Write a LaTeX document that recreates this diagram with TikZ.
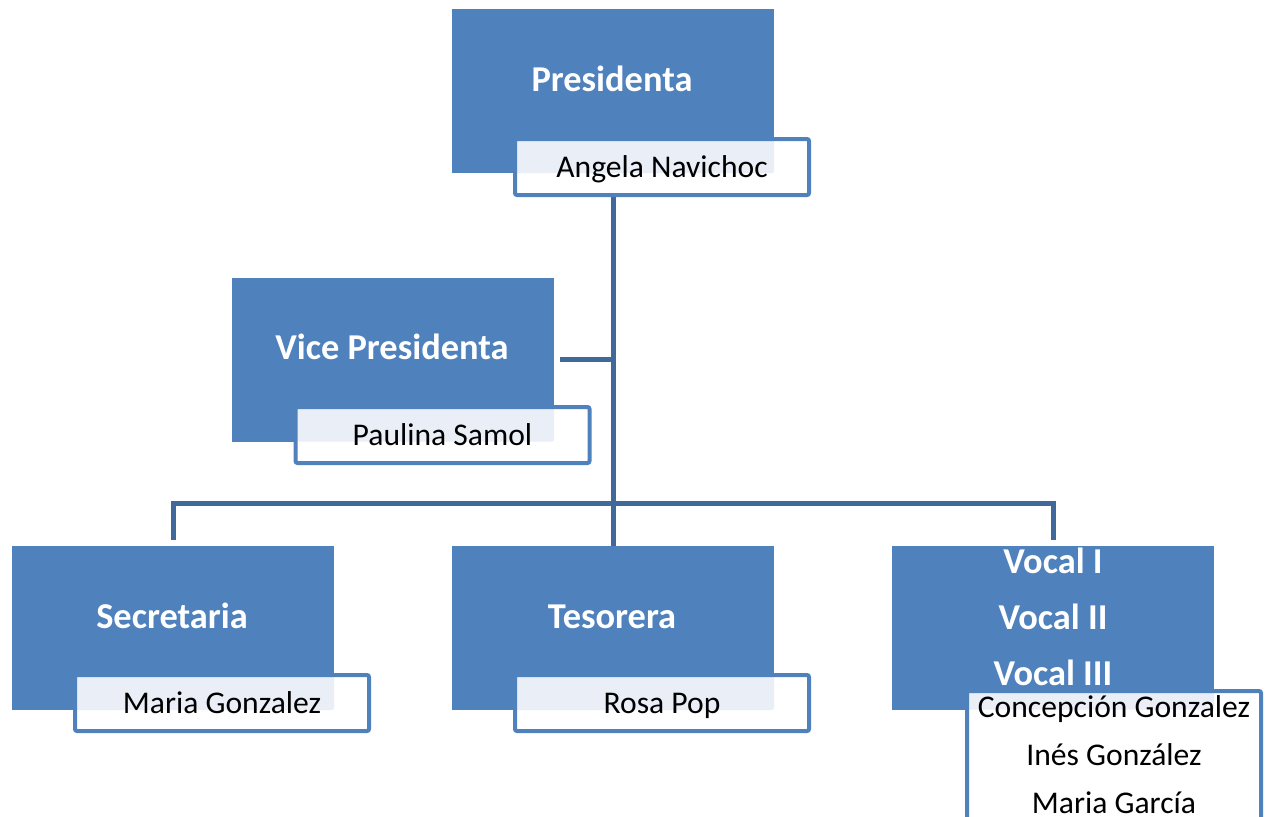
\documentclass[tikz,border=0pt]{standalone}
\usepackage{fontspec}
\setmainfont{Carlito}
\definecolor{boxblue}{HTML}{4F81BD}
\definecolor{linkblue}{HTML}{41689A}
\definecolor{nbord}{HTML}{4F81BD}
\definecolor{lightfill}{HTML}{E9EEF7}
\begin{document}
\begin{tikzpicture}[x=0.5pt,y=-0.5pt,
  rolebox/.style={fill=boxblue, draw=none, minimum width=161pt, minimum height=82pt, inner sep=0pt, outer sep=0pt},
  roletext/.style={text=white, font=\fontsize{18.2}{22}\selectfont\bfseries, inner sep=0pt, text height=12pt, text depth=0pt},
  namebox/.style={fill=white, draw=nbord, line width=2pt, rounded corners=1pt, minimum width=147pt, minimum height=28pt, inner sep=0pt, outer sep=0pt, font=\fontsize{15.8}{18}\selectfont, text height=10pt, text depth=0pt},
  nametext/.style={font=\fontsize{15.8}{18}\selectfont, inner sep=0pt, text height=10pt, text depth=0pt},
  link/.style={draw=linkblue, line width=2.5pt}]
\useasboundingbox (0,0) rectangle (1266,816);
\clip (0,0) rectangle (1266,816);
% role boxes
\node[rolebox] (pres) at (613,91) {};
\node[rolebox] (vp) at (393,359.5) {};
\node[rolebox] (sec) at (173,628) {};
\node[rolebox] (tes) at (613,628) {};
\node[rolebox] (voc) at (1053,627.5) {};
% connectors
\coordinate (bus) at (612,503);
\draw[link] (pres.south) -- (tes.north);
\draw[link] ([xshift=3pt]vp.east) -- (vp.east -| pres.south);
\draw[link] ([yshift=3pt]sec.north) |- (bus) -| ([yshift=3pt]voc.north);
% titles
\node[roletext] (presT) at (612,79) {Presidenta};
\node[roletext] (vpT) at (392,347) {Vice Presidenta};
\node[roletext] (secT) at (172,616) {Secretaria};
\node[roletext] (tesT) at (612,616) {Tesorera};
\node[roletext] (vocT1) at (1053,561) {Vocal I};
\node[roletext] (vocT2) at (1053,617) {Vocal II};
\node[roletext] (vocT3) at (1053,673) {Vocal III};
% name boxes
\node[namebox, path picture={\fill[lightfill] (path picture bounding box.north west) rectangle (pres.south east);}] (pname) at (662,167) {Angela Navichoc};
\node[namebox, path picture={\fill[lightfill] (path picture bounding box.north west) rectangle (vp.south east);}] (vpname) at (442.5,435) {Paulina Samol};
\node[namebox, path picture={\fill[lightfill] (path picture bounding box.north west) rectangle (sec.south east);}] (sname) at (222,703) {Maria Gonzalez};
\node[namebox, path picture={\fill[lightfill] (path picture bounding box.north west) rectangle (tes.south east);}] (tname) at (662,703) {Rosa Pop};
\node[namebox, minimum height=100pt, anchor=north, path picture={\fill[lightfill] (path picture bounding box.north west) rectangle (voc.south east);}] (vname) at (1114,691) {};
\node[nametext] (vn1) at (1114,707) {Concepción Gonzalez};
\node[nametext] (vn2) at (1114,755) {Inés González};
\node[nametext] (vn3) at (1114,803) {Maria García};
\end{tikzpicture}
\end{document}
